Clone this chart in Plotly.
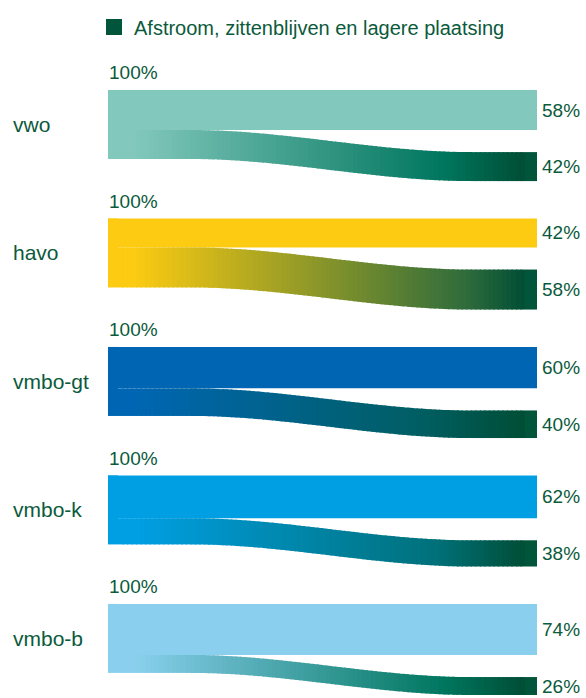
import plotly.graph_objects as go

# ---- data ----
levels = ["vwo", "havo", "vmbo-gt", "vmbo-k", "vmbo-b"]
start_pct = [100, 100, 100, 100, 100]
stay_pct = [58, 42, 60, 62, 74]          # straight band
down_pct = [42, 58, 40, 38, 26]          # afstroom band
legend_name = "Afstroom, zittenblijven en lagere plaatsing"

# ---- style ----
level_colors = ["#82C8BC", "#FCCB12", "#0066B3", "#009FE3", "#8AD0EE"]
mid_colors = ["#00765E", "#2E6B3C", "#005E62", "#00717A", "#00765F"]
mid_pos = [0.80, 0.86, 0.75, 0.78, 0.80]
dark = "#004E35"
node_dark = "#00553A"
text_color = "#0B5A3C"
FONT = "Liberation Sans, Arial, sans-serif"

W, H = 586, 698
PX = 0.69            # pixels per percent
TOP0 = 90            # px of first block top
STEP = 186.2         # percent units between blocks
DROP = 32            # percent units the band drops
X0, X1, X2, X3 = 108, 118, 525, 537
C0, C1 = 192, 470    # where the curve bends


def hex2rgb(h):
    h = h.lstrip("#")
    return [int(h[i:i + 2], 16) for i in (0, 2, 4)]


def mix(a, b, t):
    return [a[i] + (b[i] - a[i]) * t for i in range(3)]


def grad(i, t):
    c0 = hex2rgb(level_colors[i]); cm = hex2rgb(mid_colors[i]); c1 = hex2rgb(dark)
    t0 = 0.04
    if t <= t0:
        c = c0
    elif t <= mid_pos[i]:
        c = mix(c0, cm, (t - t0) / (mid_pos[i] - t0))
    else:
        c = mix(cm, c1, (t - mid_pos[i]) / (1 - mid_pos[i]))
    return "rgb(%d,%d,%d)" % tuple(round(v) for v in c)


def smooth(x):
    u = min(max((x - C0) / (C1 - C0), 0), 1)
    return u * u * (3 - 2 * u)


fig = go.Figure()


def poly(xs, ys, color):
    fig.add_trace(go.Scatter(x=xs, y=ys, fill="toself", mode="lines",
                             line=dict(width=0, color=color), fillcolor=color,
                             hoverinfo="skip", showlegend=False))


annotations = []
NS = 90
for i, lvl in enumerate(levels):
    top = i * STEP
    p1 = stay_pct[i]
    p2 = down_pct[i]
    # straight band
    poly([X0, X3, X3, X0, X0], [top, top, top + p1, top + p1, top], level_colors[i])
    # left node (full 100%)
    poly([X0, X1, X1, X0, X0], [top, top, top + start_pct[i], top + start_pct[i], top], level_colors[i])
    # gradient flow band in thin, slightly overlapping slices
    for k in range(NS):
        xa = X1 + (X2 - X1) * k / NS
        xb = min(X1 + (X2 - X1) * (k + 1) / NS + 1.2, X2)
        pts = [xa + (xb - xa) * j / 4 for j in range(5)]
        ytop = [top + p1 + DROP * smooth(x) for x in pts]
        ybot = [y + p2 for y in ytop]
        col = grad(i, (k + 0.5) / NS)
        poly(pts + pts[::-1] + [pts[0]], ytop + ybot[::-1] + [ytop[0]], col)
    # right dark node
    yn = top + p1 + DROP
    poly([X2, X3, X3, X2, X2], [yn, yn, yn + p2, yn + p2, yn], node_dark)

    lab = dict(family=FONT, size=21, color=text_color)
    pct = dict(family=FONT, size=19, color=text_color)
    annotations.append(dict(x=11, y=top + start_pct[i] / 2, text=lvl, showarrow=False,
                            xanchor="left", yanchor="middle", font=lab))
    annotations.append(dict(x=X0 - 1, y=top - 25, text=f"{start_pct[i]}%", showarrow=False,
                            xanchor="left", yanchor="middle", font=pct))
    annotations.append(dict(x=X3 + 3, y=top + p1 / 2, text=f"{p1}%", showarrow=False,
                            xanchor="left", yanchor="middle", font=pct))
    annotations.append(dict(x=X3 + 3, y=yn + p2 / 2, text=f"{p2}%", showarrow=False,
                            xanchor="left", yanchor="middle", font=pct))

# legend entry
fig.add_trace(go.Scatter(x=[None], y=[None], mode="markers", name=legend_name,
                         marker=dict(symbol="square", size=16, color=node_dark),
                         showlegend=True))

fig.update_layout(
    width=W, height=H, autosize=False,
    margin=dict(l=0, r=0, t=0, b=0),
    paper_bgcolor="white", plot_bgcolor="white",
    xaxis=dict(range=[0, W], visible=False, fixedrange=True),
    yaxis=dict(range=[(H - TOP0) / PX, -TOP0 / PX], visible=False, fixedrange=True),
    annotations=annotations,
    showlegend=True,
    legend=dict(x=94 / W, y=1 - 27 / H, xanchor="left", yanchor="middle",
                orientation="h", font=dict(family=FONT, size=20, color=text_color),
                bgcolor="rgba(0,0,0,0)", itemclick=False, itemdoubleclick=False),
)

fig.write_html("out.html", config={"displayModeBar": False, "staticPlot": True},
               post_script="document.body.style.margin='0px';document.body.style.overflow='hidden';")
